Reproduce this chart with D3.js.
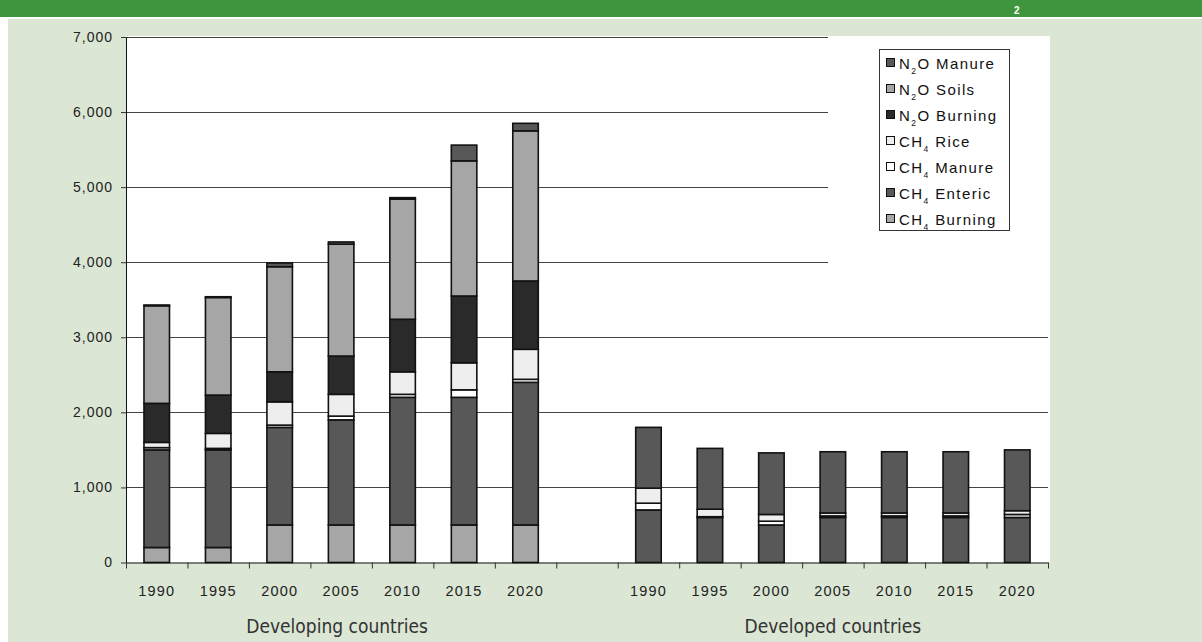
<!DOCTYPE html>
<meta charset="utf-8">
<script src="https://d3js.org/d3.v7.min.js"></script>
<style>
  body { margin: 0; background: #fff; }
  text { font-family: "Liberation Sans", Arial, sans-serif; }
</style>
<body>
<div id="chart"></div>
<script>
  // categories
  const years = ["1990", "1995", "2000", "2005", "2010", "2015", "2020"];
  const groups = ["Developing countries", "Developed countries"];

  // series, bottom of the stack first (7 developing values, then 7 developed)
  const ch4Burning = [200, 200, 500, 500, 500, 500, 500, 0, 0, 0, 0, 0, 0, 0];
  const ch4Enteric = [1300, 1300, 1300, 1400, 1700, 1700, 1900, 700, 600, 500, 600, 600, 600, 600];
  const ch4Manure = [30, 20, 30, 50, 40, 100, 40, 90, 10, 50, 20, 20, 20, 40];
  const ch4Rice = [70, 200, 310, 290, 300, 360, 400, 200, 100, 90, 40, 40, 40, 50];
  const n2oBurning = [520, 510, 400, 510, 700, 890, 910, 0, 0, 0, 0, 0, 0, 0];
  const n2oSoils = [1300, 1300, 1400, 1490, 1600, 1800, 2000, 0, 0, 0, 0, 0, 0, 0];
  const n2oManure = [10, 10, 50, 30, 20, 210, 100, 810, 810, 820, 815, 815, 815, 810];

  const seriesNames = ["CH4 Burning", "CH4 Enteric", "CH4 Manure", "CH4 Rice", "N2O Burning", "N2O Soils", "N2O Manure"];
  const seriesValues = [ch4Burning, ch4Enteric, ch4Manure, ch4Rice, n2oBurning, n2oSoils, n2oManure];
  const seriesColors = ["#a6a6a6", "#585858", "#ffffff", "#eeeeee", "#2a2a2a", "#a6a6a6", "#585858"];

  const yTicks = [0, 1000, 2000, 3000, 4000, 5000, 6000, 7000];

  // one row per bar, with a blank slot between the two groups
  const keys = [];
  const rows = [];
  groups.forEach((g, gi) => {
    years.forEach((yr, yi) => {
      const k = g + "|" + yr;
      keys.push(k);
      const row = { key: k, year: yr };
      seriesNames.forEach((s, si) => { row[s] = seriesValues[si][gi * 7 + yi]; });
      rows.push(row);
    });
    if (gi == 0) keys.push("gap");
  });

  const width = 1202, height = 642;
  const plotLeft = 126, plotRight = 1048, plotTop = 37, plotBottom = 562.5;

  const svg = d3.select("#chart").append("svg")
    .attr("width", width)
    .attr("height", height);

  // page background
  svg.append("rect").attr("width", width).attr("height", height).attr("fill", "#fff");
  svg.append("rect").attr("width", width).attr("height", 17).attr("fill", "#3f953d");
  svg.append("rect").attr("x", 8).attr("y", 19).attr("width", width - 8).attr("height", height - 19)
    .attr("fill", "#dbe6d4");
  svg.append("text").attr("x", 1014).attr("y", 14).attr("fill", "#fff")
    .attr("font-size", 10).attr("font-weight", "bold").text("2");

  // plot area
  svg.append("rect").attr("x", plotLeft).attr("y", 36).attr("width", 1050 - plotLeft).attr("height", plotBottom - 36)
    .attr("fill", "#fff");

  const x = d3.scaleBand().domain(keys).range([plotLeft, plotRight]).paddingInner(0.585).paddingOuter(0.2925);
  const xEdges = d3.scaleLinear().domain([0, keys.length]).range([plotLeft, plotRight]);
  const y = d3.scaleLinear().domain([0, 7000]).range([plotBottom, plotTop]);

  // gridlines
  svg.append("g")
    .selectAll("line")
    .data(yTicks.filter(d => d > 0))
    .join("line")
    .attr("x1", plotLeft)
    .attr("x2", plotRight)
    .attr("y1", d => Math.round(y(d)) + 0.5)
    .attr("y2", d => Math.round(y(d)) + 0.5)
    .attr("stroke", "#444")
    .attr("stroke-width", 1);

  // legend area covers the top right of the grid
  svg.append("rect").attr("x", 828).attr("y", 36).attr("width", 1050 - 828).attr("height", 250)
    .attr("fill", "#fff");

  // stacked bars
  const stacked = d3.stack().keys(seriesNames)(rows);
  svg.append("g")
    .selectAll("g")
    .data(stacked)
    .join("g")
    .attr("fill", (d, i) => seriesColors[i])
    .selectAll("rect")
    .data(d => d.filter(p => p[1] - p[0] > 0))
    .join("rect")
    .attr("x", d => x(d.data.key))
    .attr("width", x.bandwidth())
    .attr("y", d => y(d[1]))
    .attr("height", d => y(d[0]) - y(d[1]))
    .attr("stroke", "#111")
    .attr("stroke-width", 1.6);

  // y axis
  const yAxis = svg.append("g")
    .attr("transform", `translate(${plotLeft},0)`)
    .call(d3.axisLeft(y).tickValues(yTicks).tickFormat(d3.format(",")).tickSizeInner(5).tickSizeOuter(0).tickPadding(8));
  yAxis.select(".domain").attr("stroke", "#111");
  yAxis.selectAll("line").attr("stroke", "#333");
  yAxis.selectAll("text").attr("font-size", 14).attr("letter-spacing", 1).attr("fill", "#222")
    .attr("font-family", "Liberation Sans, Arial, sans-serif");

  // x axis: ticks at the category edges
  const xAxis = svg.append("g")
    .attr("transform", `translate(0,${plotBottom})`)
    .call(d3.axisBottom(xEdges).tickValues(d3.range(keys.length + 1)).tickFormat("").tickSizeInner(6).tickSizeOuter(0));
  xAxis.select(".domain").attr("stroke", "#111");
  xAxis.selectAll("line").attr("stroke", "#333");

  // year labels
  svg.append("g")
    .selectAll("text")
    .data(rows)
    .join("text")
    .attr("x", d => x(d.key) + x.bandwidth() / 2)
    .attr("y", 596)
    .attr("text-anchor", "middle")
    .attr("font-size", 14.5)
    .attr("letter-spacing", 1.2)
    .attr("fill", "#222")
    .text(d => d.year);

  // group labels
  groups.forEach((g) => {
    const first = x(g + "|" + years[0]);
    const last = x(g + "|" + years[years.length - 1]) + x.bandwidth();
    svg.append("text")
      .attr("x", (first + last) / 2 - (g == groups[0] ? 4 : 0))
      .attr("y", 633)
      .attr("text-anchor", "middle")
      .attr("font-size", 19)
      .attr("fill", "#333")
      .style("font-family", "'Liberation Sans Narrow', 'DejaVu Sans Condensed', sans-serif")
      .text(g);
  });

  // legend
  const legend = svg.append("g");
  legend.append("rect").attr("x", 879.5).attr("y", 49.5).attr("width", 130).attr("height", 181)
    .attr("fill", "#fff").attr("stroke", "#333").attr("stroke-width", 1);

  const legendItems = seriesNames.map((s, i) => ({ name: s, color: seriesColors[i] })).reverse();
  const item = legend.selectAll("g.item")
    .data(legendItems)
    .join("g")
    .attr("class", "item")
    .attr("transform", (d, i) => `translate(886,${63 + i * 26})`);

  item.append("rect")
    .attr("x", 0.5).attr("y", -4.5).attr("width", 8).attr("height", 8)
    .attr("fill", d => d.color).attr("stroke", "#111").attr("stroke-width", 1);

  item.each(function (d) {
    const t = d3.select(this).append("text")
      .attr("x", 13).attr("y", 5.5)
      .attr("font-size", 15).attr("letter-spacing", 1.4).attr("fill", "#111");
    const m = d.name.match(/^([A-Z]+)(\d)(.*)$/);
    t.append("tspan").text(m[1]);
    t.append("tspan").attr("font-size", 8.5).attr("dy", 5).text(m[2]);
    t.append("tspan").attr("dy", -5).text(m[3]);
  });
</script>
</body>
